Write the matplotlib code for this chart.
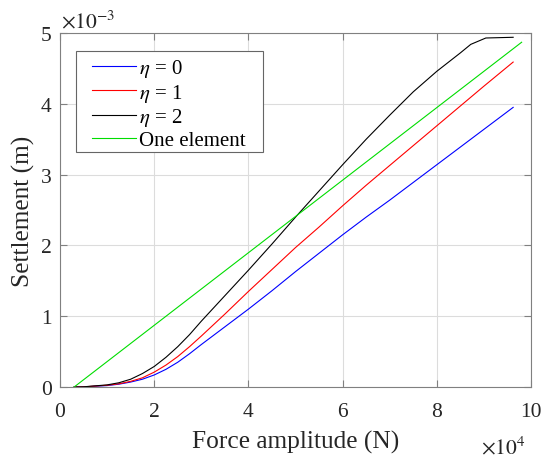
import numpy as np
import matplotlib
matplotlib.use('Agg')
import matplotlib.pyplot as plt
from matplotlib.patches import Rectangle
from matplotlib.ticker import FuncFormatter

plt.rcParams['font.family'] = ['Liberation Serif', 'DejaVu Serif']
plt.rcParams['mathtext.fontset'] = 'stix'

# force amplitude (x 1e4 N) and settlement (x 1e-3 m)
force = [0.3, 0.5, 1.0, 1.25, 1.5, 1.75, 2.0, 2.25, 2.5, 2.75, 3.0, 3.5, 4.0,
         4.5, 5.0, 5.5, 6.0, 6.5, 7.0, 7.5, 8.0, 8.5, 9.0, 9.62]
eta0 = [0.0, 0.002, 0.02, 0.04, 0.07, 0.11, 0.17, 0.25, 0.35, 0.47, 0.60,
        0.85, 1.10, 1.36, 1.63, 1.89, 2.15, 2.40, 2.64, 2.89, 3.14, 3.39,
        3.64, 3.95]
eta1 = [0.0, 0.002, 0.025, 0.045, 0.08, 0.13, 0.21, 0.31, 0.43, 0.57, 0.72,
        1.03, 1.35, 1.66, 1.97, 2.26, 2.56, 2.85, 3.13, 3.41, 3.69, 3.97,
        4.25, 4.59]
force2 = [0.3, 0.5, 1.0, 1.25, 1.5, 1.75, 2.0, 2.25, 2.5, 2.75, 3.0, 3.5, 4.0,
          4.5, 5.0, 5.5, 6.0, 6.5, 7.0, 7.5, 8.0, 8.5, 8.72, 9.04, 9.62]
eta2 = [0.0, 0.003, 0.03, 0.06, 0.11, 0.19, 0.29, 0.42, 0.57, 0.74, 0.93,
        1.29, 1.65, 2.02, 2.40, 2.77, 3.14, 3.50, 3.84, 4.17, 4.46, 4.72,
        4.84, 4.93, 4.94]
force_one = [0.3, 9.8]
one_el = [0.0, 4.87]

fx = 1e4
fy = 1e-3

fig = plt.figure(figsize=(5.43, 4.60), dpi=100)
ax = fig.add_axes([0.1105, 0.1565, 0.8675, 0.7695])

ax.plot(np.array(force) * fx, np.array(eta0) * fy, color='#0000ff', lw=0.8, label=r'$\eta$ = 0')
ax.plot(np.array(force) * fx, np.array(eta1) * fy, color='#ff0000', lw=0.8, label=r'$\eta$ = 1')
ax.plot(np.array(force2) * fx, np.array(eta2) * fy, color='black', lw=0.8, label=r'$\eta$ = 2')
ax.plot(np.array(force_one) * fx, np.array(one_el) * fy, color='#00dd00', lw=0.8, label='One element')

ax.set_xlim(0, 10 * fx)
ax.set_ylim(0, 5 * fy)
ax.set_xticks(np.arange(0, 11, 2) * fx)
ax.set_yticks(np.arange(0, 6, 1) * fy)
ax.xaxis.set_major_formatter(FuncFormatter(lambda v, p: f'{v / fx:g}'))
ax.yaxis.set_major_formatter(FuncFormatter(lambda v, p: f'{v / fy:g}'))

ax.grid(True, color='#dcdcdc', lw=0.8)
ax.set_axisbelow(True)
for s in ax.spines.values():
    s.set_color('#808080')
    s.set_linewidth(0.8)
ax.tick_params(direction='in', top=True, right=True, length=5, color='#808080',
               labelsize=15.5, labelcolor='#262626')
ax.tick_params(axis='x', pad=11)
ax.tick_params(axis='y', pad=6)

ax.set_xlabel('Force amplitude (N)', fontsize=18.3, color='#262626', labelpad=6)
ax.set_ylabel('Settlement (m)', fontsize=18.3, color='#262626', labelpad=4)

fig.text(0.113, 0.939, r'$\times10^{-3}$', fontsize=15.5, color='#262626', va='baseline')
fig.text(0.885, 0.011, r'$\times10^{4}$', fontsize=15.5, color='#262626', va='baseline')

# legend box drawn separately so its padding can match the original
ax.add_patch(Rectangle((0.034, 0.664), 0.397, 0.285, transform=ax.transAxes,
                       facecolor='white', edgecolor='#666666', lw=0.8, zorder=4.5))
leg = ax.legend(loc='upper left', bbox_to_anchor=(0.068, 0.932), borderaxespad=0,
                frameon=False, fontsize=15, handlelength=2.1, labelspacing=0.12,
                borderpad=0, handletextpad=0.15)

fig.savefig('out.png', dpi=100)
